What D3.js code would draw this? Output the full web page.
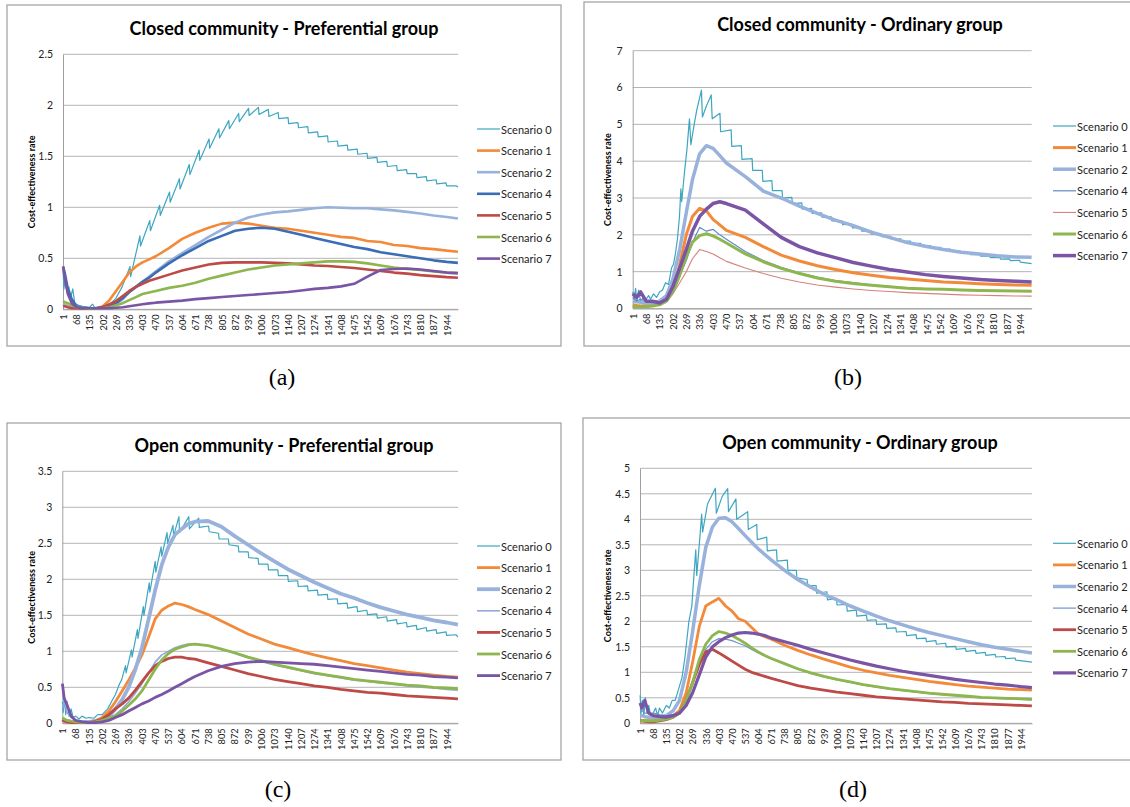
<!DOCTYPE html>
<html><head><meta charset="utf-8">
<script src="https://cdn.jsdelivr.net/npm/d3@7"></script>
<style>html,body{margin:0;padding:0;background:#fff;} svg{display:block;}</style>
</head><body>
<svg id="chart" width="1130" height="807"></svg>
<script>
// ---------------- DATA ----------------
const seriesNames = ["Scenario 0","Scenario 1","Scenario 2","Scenario 4","Scenario 5","Scenario 6","Scenario 7"];
const xTickLabels = [1,68,135,202,269,336,403,470,537,604,671,738,805,872,939,1006,1073,1140,1207,1274,1341,1408,1475,1542,1609,1676,1743,1810,1877,1944];
const yTicksA = [0,0.5,1,1.5,2,2.5];
const yTicksB = [0,1,2,3,4,5,6,7];
const yTicksC = [0,0.5,1,1.5,2,2.5,3,3.5];
const yTicksD = [0,0.5,1,1.5,2,2.5,3,3.5,4,4.5,5];

// (a) Closed community - Preferential group
const idxA = [1,10,25,45,68,100,135,170,202,236,269,303,336,370,403,437,470,537,604,671,738,805,872,939,1006,1073,1140,1207,1274,1341,1408,1475,1542,1609,1676,1743,1810,1877,1944,2000];
const s0A = [[1,0.38],[5,0.2],[12,0.3],[20,0.17],[30,0.22],[40,0.12],[50,0.2],[60,0.06],[80,0.04],[100,0.03],[135,0.02],[150,0.05],[160,0.02],[202,0.02],[240,0.05],[269,0.11],[300,0.22],
 [340,0.42],[343,0.32],[390,0.72],[393,0.62],[440,0.87],[443,0.77],[490,1.02],[493,0.92],[540,1.15],[543,1.05],[590,1.28],[593,1.18],[640,1.42],[643,1.32],[690,1.56],[693,1.46],[740,1.67],[743,1.58],[790,1.77],[793,1.68],[840,1.85],[843,1.77],[890,1.92],[893,1.84],[940,1.97],[943,1.9],[990,1.98],[993,1.91],[1040,1.96],[1043,1.89],
 [1090,1.93],[1093,1.87],[1140,1.88],[1143,1.82],[1190,1.83],[1193,1.78],[1240,1.79],[1243,1.73],[1290,1.74],[1293,1.69],[1340,1.7],[1343,1.64],[1390,1.65],[1393,1.6],[1440,1.61],[1443,1.56],[1490,1.57],[1493,1.52],[1540,1.53],[1543,1.48],[1590,1.49],[1593,1.44],[1640,1.45],[1643,1.4],[1690,1.41],[1693,1.36],[1740,1.37],[1743,1.33],[1790,1.33],[1793,1.29],[1840,1.3],[1843,1.26],[1890,1.27],[1893,1.23],[1940,1.24],[1943,1.21],[1990,1.21],[2000,1.2]];
const aS1 = [0.05,0.04,0.03,0.02,0.01,0.005,0.005,0.01,0.03,0.09,0.18,0.27,0.36,0.42,0.46,0.49,0.52,0.6,0.69,0.75,0.8,0.84,0.85,0.84,0.82,0.8,0.79,0.77,0.75,0.73,0.71,0.7,0.67,0.66,0.63,0.62,0.6,0.59,0.575,0.565];
const aS2 = [0.05,0.04,0.03,0.02,0.01,0.005,0.005,0.005,0.01,0.03,0.05,0.1,0.17,0.22,0.27,0.32,0.37,0.47,0.55,0.63,0.71,0.78,0.85,0.9,0.93,0.95,0.96,0.975,0.99,1.0,0.995,0.99,0.99,0.98,0.97,0.955,0.94,0.92,0.905,0.89];
const aS4 = [0.42,0.35,0.2,0.1,0.03,0.015,0.01,0.01,0.02,0.04,0.06,0.11,0.17,0.22,0.27,0.31,0.36,0.45,0.53,0.6,0.67,0.72,0.77,0.79,0.8,0.79,0.76,0.73,0.7,0.67,0.64,0.61,0.59,0.56,0.54,0.52,0.5,0.48,0.465,0.455];
const aS5 = [0.03,0.03,0.02,0.01,0.01,0.005,0.005,0.01,0.02,0.05,0.08,0.13,0.18,0.22,0.25,0.28,0.3,0.34,0.38,0.41,0.44,0.455,0.46,0.46,0.46,0.455,0.45,0.44,0.43,0.425,0.415,0.405,0.39,0.375,0.36,0.35,0.335,0.325,0.315,0.31];
const aS6 = [0.08,0.07,0.06,0.04,0.02,0.01,0.005,0.005,0.01,0.02,0.04,0.06,0.09,0.12,0.15,0.165,0.18,0.21,0.23,0.26,0.3,0.33,0.36,0.39,0.41,0.43,0.44,0.45,0.46,0.47,0.47,0.465,0.45,0.43,0.41,0.395,0.385,0.37,0.36,0.355];
const aS7 = [0.42,0.3,0.15,0.06,0.02,0.01,0.01,0.01,0.01,0.012,0.015,0.02,0.03,0.04,0.05,0.058,0.065,0.075,0.085,0.1,0.11,0.12,0.13,0.14,0.15,0.16,0.17,0.185,0.2,0.21,0.225,0.25,0.32,0.385,0.395,0.4,0.39,0.375,0.36,0.355];

// (b) Closed community - Ordinary group
const idxB = [1,20,40,68,100,135,170,202,236,269,300,336,370,403,437,470,565,655,745,836,926,1016,1106,1197,1287,1377,1467,1558,1648,1738,1829,1919,2000];
const s0B = [[1,0.45],[8,0.25],[15,0.55],[22,0.2],[30,0.5],[40,0.2],[55,0.3],[68,0.25],[80,0.35],[90,0.25],[105,0.4],[120,0.3],[135,0.45],[150,0.5],[165,0.7],[180,0.65],[195,1.1],[205,1.2],[215,1.5],[225,1.9],[235,2.5],[242,3.25],[246,2.9],[260,3.7],[272,4.3],[285,5.15],[292,4.45],[312,5.1],[322,5.4],[345,5.93],[350,5.2],[370,5.5],[394,5.8],[399,5.15],[438,5.3],[441,4.8],
 [494,4.85],[497,4.4],[545,4.42],[548,4.05],[599,4.07],[602,3.75],[650,3.75],[653,3.45],[698,3.47],[701,3.2],[749,3.2],[752,3.0],[798,3.02],[801,2.85],[848,2.87],[851,2.7],[897,2.72],[900,2.58],[947,2.6],[950,2.48],[996,2.49],[999,2.38],[1050,2.38],[1053,2.28],[1099,2.29],[1102,2.19],[1146,2.2],[1149,2.1],[1195,2.11],[1198,2.02],[1245,2.03],[1248,1.95],[1294,1.96],[1297,1.88],[1345,1.89],[1348,1.82],[1393,1.83],[1396,1.76],[1444,1.77],[1447,1.7],[1493,1.71],[1496,1.65],[1543,1.66],[1546,1.6],[1592,1.61],[1595,1.55],[1642,1.56],[1645,1.5],[1691,1.51],[1694,1.46],[1742,1.47],[1745,1.42],[1790,1.43],[1793,1.38],[1841,1.39],[1844,1.34],[1890,1.35],[1893,1.3],[1940,1.31],[1943,1.26],[2000,1.22]];
const bS1 = [0.1,0.08,0.07,0.08,0.1,0.15,0.25,0.5,1.2,2.0,2.5,2.72,2.65,2.42,2.27,2.12,1.93,1.68,1.45,1.29,1.16,1.06,0.97,0.9,0.84,0.8,0.76,0.72,0.7,0.67,0.65,0.64,0.63];
const bS2 = [0.2,0.18,0.17,0.15,0.15,0.2,0.35,0.8,1.6,2.6,3.5,4.2,4.42,4.35,4.15,3.95,3.58,3.19,3.0,2.78,2.58,2.4,2.25,2.07,1.93,1.79,1.69,1.6,1.53,1.48,1.43,1.4,1.39];
const bS4 = [0.3,0.2,0.25,0.2,0.15,0.15,0.25,0.5,0.9,1.3,1.8,2.2,2.1,2.15,2.0,1.88,1.55,1.3,1.12,0.97,0.85,0.76,0.7,0.64,0.6,0.56,0.54,0.52,0.5,0.49,0.48,0.475,0.47];
const bS5 = [0.05,0.05,0.05,0.05,0.06,0.1,0.2,0.4,0.7,1.0,1.35,1.6,1.55,1.48,1.38,1.28,1.1,0.95,0.82,0.72,0.64,0.58,0.53,0.49,0.46,0.43,0.41,0.39,0.37,0.36,0.35,0.34,0.335];
const bS6 = [0.05,0.05,0.05,0.05,0.07,0.1,0.2,0.45,0.9,1.4,1.8,1.98,2.03,1.97,1.88,1.78,1.48,1.27,1.09,0.95,0.83,0.74,0.68,0.63,0.59,0.55,0.53,0.52,0.5,0.49,0.48,0.475,0.47];
const bS7 = [0.4,0.3,0.45,0.2,0.2,0.15,0.25,0.6,1.1,1.6,2.1,2.5,2.7,2.85,2.9,2.85,2.67,2.3,1.93,1.68,1.51,1.38,1.25,1.15,1.06,0.99,0.92,0.87,0.83,0.79,0.76,0.74,0.72];

// (c) Open community - Preferential group
const idxC = [1,10,25,45,68,100,135,170,202,236,269,303,336,370,403,437,470,503,537,570,604,637,671,738,805,872,939,1006,1073,1140,1207,1274,1341,1408,1475,1542,1609,1676,1743,1810,1877,1944,2000];
const s0C = [[1,0.3],[5,0.15],[10,0.35],[18,0.12],[25,0.3],[35,0.1],[45,0.2],[55,0.08],[68,0.1],[85,0.06],[100,0.1],[120,0.07],[135,0.08],[160,0.07],[180,0.12],[202,0.12],[230,0.2],[255,0.33],[269,0.4],[290,0.55],[300,0.6],
 [320,0.8],[323,0.7],[350,1.02],[353,0.92],[380,1.3],[383,1.18],[410,1.62],[413,1.5],[440,1.95],[443,1.82],[470,2.25],[473,2.1],[500,2.45],[503,2.32],[530,2.65],[533,2.5],[560,2.75],[563,2.6],[590,2.87],[593,2.65],[640,2.87],[643,2.7],[690,2.85],[693,2.72],
 [740,2.74],[743,2.66],[790,2.64],[793,2.56],[840,2.56],[843,2.48],[890,2.46],[893,2.38],[940,2.38],[943,2.3],[990,2.29],[993,2.21],[1040,2.21],[1043,2.13],[1090,2.13],[1093,2.05],[1140,2.05],[1143,1.97],[1190,1.98],[1193,1.9],[1240,1.91],[1243,1.84],[1290,1.85],[1293,1.78],[1340,1.79],[1343,1.72],[1390,1.73],[1393,1.66],[1440,1.67],[1443,1.6],[1490,1.62],[1493,1.55],[1540,1.57],[1543,1.51],[1590,1.52],[1593,1.46],[1640,1.48],[1643,1.42],[1690,1.44],[1693,1.38],[1740,1.4],[1743,1.34],[1790,1.36],[1793,1.3],[1840,1.33],[1843,1.28],[1890,1.3],[1893,1.25],[1940,1.27],[1943,1.22],[1990,1.23],[2000,1.2]];
const cS1 = [0.05,0.04,0.03,0.02,0.02,0.015,0.02,0.04,0.08,0.17,0.3,0.45,0.6,0.77,0.95,1.2,1.45,1.57,1.63,1.67,1.65,1.62,1.58,1.51,1.42,1.33,1.24,1.17,1.1,1.05,1.0,0.95,0.91,0.87,0.83,0.8,0.77,0.74,0.71,0.69,0.67,0.65,0.64];
const cS2 = [0.05,0.04,0.03,0.02,0.02,0.02,0.02,0.03,0.05,0.1,0.2,0.33,0.5,0.75,1.05,1.45,1.85,2.2,2.45,2.62,2.7,2.77,2.8,2.81,2.73,2.6,2.48,2.36,2.25,2.14,2.05,1.96,1.88,1.8,1.74,1.67,1.61,1.56,1.51,1.47,1.43,1.4,1.37];
const cS4 = [0.2,0.3,0.15,0.08,0.04,0.02,0.02,0.03,0.05,0.08,0.12,0.2,0.3,0.42,0.55,0.7,0.85,0.95,1.0,1.05,1.08,1.1,1.1,1.08,1.03,0.97,0.91,0.86,0.81,0.77,0.73,0.69,0.66,0.63,0.6,0.58,0.56,0.54,0.52,0.5,0.49,0.47,0.46];
const cS5 = [0.05,0.03,0.02,0.01,0.01,0.01,0.01,0.03,0.06,0.12,0.2,0.27,0.35,0.46,0.58,0.7,0.8,0.86,0.9,0.92,0.92,0.9,0.89,0.84,0.79,0.74,0.69,0.65,0.61,0.58,0.55,0.52,0.5,0.47,0.45,0.43,0.42,0.4,0.38,0.37,0.36,0.35,0.34];
const cS6 = [0.08,0.06,0.04,0.03,0.02,0.01,0.01,0.02,0.04,0.07,0.1,0.17,0.25,0.34,0.45,0.6,0.75,0.88,0.97,1.03,1.06,1.09,1.1,1.08,1.03,0.98,0.92,0.87,0.82,0.78,0.74,0.7,0.67,0.64,0.61,0.59,0.57,0.55,0.53,0.52,0.5,0.49,0.48];
const cS7 = [0.55,0.35,0.25,0.1,0.04,0.02,0.01,0.01,0.02,0.04,0.08,0.12,0.17,0.22,0.27,0.31,0.36,0.4,0.45,0.5,0.55,0.6,0.65,0.73,0.79,0.83,0.85,0.86,0.85,0.84,0.83,0.82,0.8,0.78,0.76,0.74,0.72,0.7,0.68,0.67,0.65,0.64,0.63];

// (d) Open community - Ordinary group
const idxD = [1,10,25,45,68,100,135,170,202,236,269,303,336,370,403,437,470,503,537,570,604,637,671,738,805,872,939,1006,1073,1140,1207,1274,1341,1408,1475,1542,1609,1676,1743,1810,1877,1944,2000];
const s0D = [[1,0.55],[6,0.2],[12,0.45],[20,0.15],[28,0.5],[36,0.2],[45,0.35],[55,0.15],[68,0.2],[80,0.3],[90,0.15],[100,0.3],[115,0.2],[135,0.35],[150,0.3],[165,0.45],[180,0.45],[202,0.73],[215,0.9],[230,1.3],[250,2.0],[265,2.3],[272,2.7],[285,3.4],[290,2.9],[305,3.6],[315,4.1],[320,3.75],[345,4.3],[385,4.61],[390,4.12],[420,4.45],[448,4.6],[452,4.15],
 [490,4.4],[494,4.0],[550,4.15],[553,3.8],[596,3.9],[599,3.6],[647,3.65],[650,3.38],[697,3.4],[700,3.18],[752,3.2],[755,3.0],[798,3.0],[801,2.85],[853,2.82],[856,2.7],[899,2.7],[902,2.55],[954,2.58],[957,2.42],[1003,2.45],[1006,2.32],[1055,2.33],[1058,2.2],[1104,2.22],[1107,2.1],[1156,2.12],[1159,2.02],[1205,2.03],[1208,1.94],[1257,1.95],[1260,1.86],[1306,1.87],[1309,1.79],[1358,1.8],[1361,1.72],[1409,1.74],[1412,1.66],[1459,1.67],[1462,1.6],[1510,1.62],[1513,1.55],[1560,1.57],[1563,1.5],[1611,1.51],[1614,1.45],[1661,1.47],[1664,1.41],[1712,1.43],[1715,1.37],[1762,1.39],[1765,1.33],[1813,1.35],[1816,1.3],[1863,1.31],[1866,1.27],[1914,1.28],[1917,1.24],[2000,1.2]];
const dS1 = [0.05,0.05,0.05,0.05,0.05,0.07,0.1,0.15,0.25,0.6,1.2,1.9,2.3,2.38,2.45,2.3,2.2,2.05,2.0,1.88,1.75,1.7,1.65,1.53,1.43,1.34,1.26,1.18,1.1,1.04,0.99,0.94,0.9,0.86,0.82,0.79,0.76,0.73,0.71,0.69,0.67,0.66,0.65];
const dS2 = [0.15,0.15,0.13,0.12,0.12,0.12,0.15,0.25,0.45,1.0,1.8,2.7,3.45,3.85,4.02,4.03,3.95,3.82,3.68,3.55,3.42,3.31,3.2,3.0,2.82,2.67,2.53,2.42,2.3,2.2,2.1,2.01,1.93,1.85,1.78,1.72,1.66,1.6,1.54,1.49,1.45,1.41,1.38];
const dS4 = [0.3,0.25,0.2,0.2,0.2,0.17,0.15,0.17,0.2,0.45,0.8,1.15,1.45,1.6,1.66,1.65,1.62,1.57,1.52,1.45,1.38,1.32,1.26,1.16,1.06,0.98,0.91,0.85,0.8,0.75,0.71,0.67,0.64,0.61,0.58,0.56,0.54,0.52,0.5,0.49,0.48,0.47,0.46];
const dS5 = [0.05,0.05,0.04,0.03,0.03,0.05,0.07,0.12,0.2,0.45,0.8,1.15,1.4,1.45,1.38,1.3,1.22,1.14,1.06,1.0,0.96,0.92,0.88,0.81,0.74,0.69,0.65,0.61,0.58,0.55,0.52,0.5,0.48,0.46,0.44,0.42,0.41,0.39,0.38,0.37,0.36,0.35,0.34];
const dS6 = [0.05,0.05,0.05,0.05,0.05,0.06,0.08,0.12,0.2,0.45,0.8,1.25,1.55,1.72,1.8,1.77,1.72,1.65,1.57,1.48,1.4,1.33,1.27,1.17,1.07,0.99,0.92,0.86,0.81,0.76,0.72,0.68,0.65,0.62,0.59,0.57,0.55,0.53,0.51,0.5,0.49,0.48,0.47];
const dS7 = [0.4,0.3,0.45,0.2,0.15,0.13,0.12,0.15,0.2,0.35,0.6,0.95,1.3,1.5,1.6,1.68,1.73,1.77,1.78,1.77,1.75,1.72,1.67,1.6,1.53,1.45,1.38,1.31,1.24,1.18,1.12,1.07,1.02,0.98,0.94,0.9,0.86,0.83,0.8,0.77,0.75,0.72,0.7];

// ---------------- LAYOUT / STYLE ----------------
const C = {teal:"#3DA6C1", orange:"#F28A3A", light:"#98B2DC", blue:"#3A6DB5", red:"#BD4A47", green:"#8DB64F", purple:"#7A55A5"};
const zip = (idx, vals) => idx.map((d,i)=>[d, vals[i]]);

const panels = [
 {title:"Closed community - Preferential group", titleX:284, titleY:35, box:[7,5,554,341], l:63, r:458, t:54.3, b:309.3, yMax:2.5, yTicks:yTicksA, yTitleX:31, legX:477, legY:129, cap:"(a)", capX:282, capY:385,
  data:[s0A, zip(idxA,aS1), zip(idxA,aS2), zip(idxA,aS4), zip(idxA,aS5), zip(idxA,aS6), zip(idxA,aS7)],
  colors:[C.teal,C.orange,C.light,C.blue,C.red,C.green,C.purple], widths:[1.2,2.6,2.6,2.6,2.6,2.6,2.6]},
 {title:"Closed community - Ordinary group", titleX:860, titleY:30.5, box:[584,2,560,344], l:632.7, r:1031.7, t:50.7, b:308.5, yMax:7, yTicks:yTicksB, yTitleX:607.5, legX:1053, legY:126, cap:"(b)", capX:848, capY:385,
  data:[s0B, zip(idxB,bS1), zip(idxB,bS2), zip(idxB,bS4), zip(idxB,bS5), zip(idxB,bS6), zip(idxB,bS7)],
  colors:[C.teal,C.orange,C.light,"#5E8CC9","#D4827F",C.green,C.purple], widths:[1.2,3,3.5,1.2,1.1,3,3.5]},
 {title:"Open community - Preferential group", titleX:284, titleY:451.5, box:[7,423,554,337], l:62.3, r:458, t:471.3, b:723.3, yMax:3.5, yTicks:yTicksC, yTitleX:31, legX:477, legY:546, cap:"(c)", capX:278, capY:797,
  data:[s0C, zip(idxC,cS1), zip(idxC,cS2), zip(idxC,cS4), zip(idxC,cS5), zip(idxC,cS6), zip(idxC,cS7)],
  colors:[C.teal,C.orange,C.light,"#8FAADB",C.red,C.green,C.purple], widths:[1.2,2.8,3.8,1.6,2.8,2.8,2.8]},
 {title:"Open community - Ordinary group", titleX:860, titleY:449.3, box:[583,418,560,342], l:640, r:1032, t:468.3, b:723.3, yMax:5, yTicks:yTicksD, yTitleX:607.5, legX:1053, legY:543.3, cap:"(d)", capX:853, capY:797,
  data:[s0D, zip(idxD,dS1), zip(idxD,dS2), zip(idxD,dS4), zip(idxD,dS5), zip(idxD,dS6), zip(idxD,dS7)],
  colors:[C.teal,C.orange,C.light,"#6F93CB",C.red,C.green,C.purple], widths:[1.2,2.8,3.5,1.2,2.8,2.8,3.2]}
];

const FONT = "Lato, 'Open Sans', sans-serif";
const svg = d3.select("#chart");
svg.append("rect").attr("width",1130).attr("height",807).attr("fill","#fff");

panels.forEach(p => {
  svg.append("rect").attr("x",p.box[0]).attr("y",p.box[1]).attr("width",p.box[2]).attr("height",p.box[3])
    .attr("fill","#fff").attr("stroke","#a6a6a6").attr("stroke-width",1.3);

  const x = d3.scaleLinear().domain([0.5,2000.5]).range([p.l,p.r]);
  const y = d3.scaleLinear().domain([0,p.yMax]).range([p.b,p.t]);
  const g = svg.append("g");

  // gridlines
  g.selectAll("line.grid").data(p.yTicks).join("line").attr("class","grid")
    .attr("x1",p.l).attr("x2",p.r).attr("y1",d=>y(d)).attr("y2",d=>y(d))
    .attr("stroke","#b4b4b4").attr("stroke-width",1);

  // y axis
  const ya = g.append("g").attr("transform",`translate(${p.l},0)`)
    .call(d3.axisLeft(y).tickValues(p.yTicks).tickSize(0).tickPadding(10).tickFormat(d3.format("~g")));
  ya.select(".domain").attr("stroke","#a0a0a0");
  ya.selectAll("text").attr("font-family",FONT).attr("font-size",10.5).attr("fill","#222");

  // x axis
  const xa = g.append("g").attr("transform",`translate(0,${p.b})`)
    .call(d3.axisBottom(x).tickValues(xTickLabels).tickSize(0).tickFormat(d3.format("d")));
  xa.select(".domain").attr("stroke","#a0a0a0");
  xa.selectAll("text").attr("font-family",FONT).attr("font-size",9.3).attr("fill","#222")
    .attr("transform","rotate(-90)").attr("text-anchor","end").attr("x",-5).attr("y",0).attr("dy","0.35em");

  // lines
  const line = d3.line().x(d=>x(d[0])).y(d=>y(d[1]));
  p.data.forEach((ser,k) => {
    g.append("path").datum(ser).attr("d",line).attr("fill","none")
      .attr("stroke",p.colors[k]).attr("stroke-width",p.widths[k]).attr("stroke-linejoin","round");
  });

  // title
  svg.append("text").attr("x",p.titleX).attr("y",p.titleY).attr("text-anchor","middle")
    .attr("font-family",FONT).attr("font-weight","bold").attr("font-size",18).attr("fill","#000").text(p.title);

  // y-axis title
  svg.append("text").attr("transform",`translate(${p.yTitleX},${(p.t+p.b)/2}) rotate(-90)`)
    .attr("text-anchor","middle").attr("dominant-baseline","central")
    .attr("font-family",FONT).attr("font-weight","bold").attr("font-size",9).attr("fill","#000")
    .text("Cost-effectiveness rate");

  // legend
  seriesNames.forEach((name,k) => {
    const yy = p.legY + k*21.6;
    svg.append("line").attr("x1",p.legX).attr("x2",p.legX+23).attr("y1",yy).attr("y2",yy)
      .attr("stroke",p.colors[k]).attr("stroke-width",p.widths[k]);
    svg.append("text").attr("x",p.legX+24).attr("y",yy).attr("dominant-baseline","central")
      .attr("font-family",FONT).attr("font-size",11).attr("fill","#222").text(name);
  });

  // caption
  svg.append("text").attr("x",p.capX).attr("y",p.capY).attr("text-anchor","middle")
    .attr("font-family","'Liberation Serif','Times New Roman',serif").attr("font-size",24).attr("fill","#000").text(p.cap);
});
</script>
</body></html>
